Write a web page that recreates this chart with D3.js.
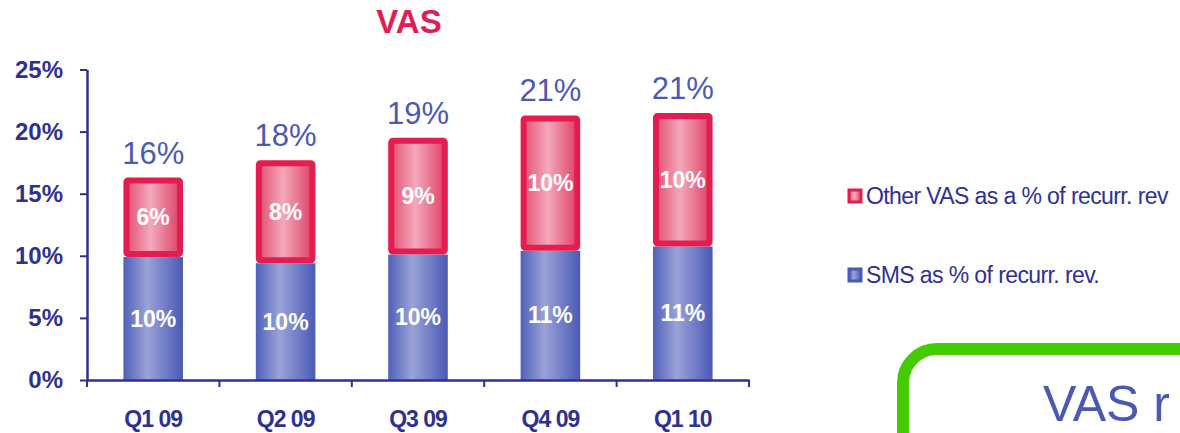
<!DOCTYPE html>
<html>
<head>
<meta charset="utf-8">
<script src="https://cdn.jsdelivr.net/npm/d3@7"></script>
<style>
    html, body { margin: 0; padding: 0; background: #fff; overflow: hidden; }
    svg { display: block; font-family: Arial, "Liberation Sans", sans-serif; }
</style>
</head>
<body>
<div id="chart"></div>
<script>
// VAS stacked bars: SMS share + other VAS share of recurring revenue

const quarters = ['Q1 09', 'Q2 09', 'Q3 09', 'Q4 09', 'Q1 10'];
const smsValues = [9.9, 9.4, 10.1, 10.4, 10.75];
const otherValues = [6.4, 8.3, 9.4, 10.9, 10.75];
const smsLabels = ['10%', '10%', '10%', '11%', '11%'];
const otherLabels = ['6%', '8%', '9%', '10%', '10%'];
const totalLabels = ['16%', '18%', '19%', '21%', '21%'];
const yTicks = [0, 5, 10, 15, 20, 25];
const legendItems = ['Other VAS as a % of recurr. rev', 'SMS as % of recurr. rev.'];

(function () {
    const W = 1180, H = 433;
    const NAVY = '#2e3192';
    const BLUE_TXT = '#4a5ab4';
    const RED = '#e31c52';
    const BORDER = 6;
    const FONT = 'Arial, "Liberation Sans", sans-serif';

    const svg = d3.select('#chart').append('svg').attr('width', W).attr('height', H);
    const defs = svg.append('defs');

    const gBlue = defs.append('linearGradient').attr('id', 'gBlue').attr('x1', 0).attr('x2', 1).attr('y1', 0).attr('y2', 0);
    gBlue.append('stop').attr('offset', '0%').attr('stop-color', '#5060b8');
    gBlue.append('stop').attr('offset', '40%').attr('stop-color', '#9aa2d8');
    gBlue.append('stop').attr('offset', '100%').attr('stop-color', '#4a5ab4');

    const gRed = defs.append('linearGradient').attr('id', 'gRed').attr('x1', 0).attr('x2', 1).attr('y1', 0).attr('y2', 0);
    gRed.append('stop').attr('offset', '0%').attr('stop-color', '#e2506f');
    gRed.append('stop').attr('offset', '45%').attr('stop-color', '#f4a8bc');
    gRed.append('stop').attr('offset', '100%').attr('stop-color', '#df4268');

    const x = d3.scaleBand().domain(quarters).range([87, 749]).paddingInner(0.55).paddingOuter(0.275);
    const y = d3.scaleLinear().domain([0, 25]).range([380, 69.5]);

    // title
    svg.append('text').attr('x', 409).attr('y', 33).attr('text-anchor', 'middle')
        .attr('fill', RED).style('font-size', '33px').style('font-weight', 'bold').text('VAS');

    // y axis
    const yAxis = svg.append('g').attr('transform', 'translate(87,0)')
        .call(d3.axisLeft(y).tickValues(yTicks).tickFormat(d => d + '%').tickSize(7).tickSizeOuter(0).tickPadding(17));
    yAxis.select('.domain').attr('stroke', NAVY).attr('stroke-width', 2.5);
    yAxis.selectAll('.tick line').attr('stroke', NAVY).attr('stroke-width', 2);
    yAxis.selectAll('.tick text').attr('fill', NAVY).style('font-size', '24px').style('font-weight', 'bold')
        .style('font-family', FONT);

    // bars
    const data = quarters.map((q, i) => ({ q, sms: smsValues[i], other: otherValues[i], i }));
    const bars = svg.append('g');
    bars.selectAll('rect.sms').data(data).enter().append('rect').attr('class', 'sms')
        .attr('x', d => x(d.q)).attr('width', x.bandwidth())
        .attr('y', d => y(d.sms)).attr('height', d => y(0) - y(d.sms))
        .attr('fill', 'url(#gBlue)');
    bars.selectAll('rect.other').data(data).enter().append('rect').attr('class', 'other')
        .attr('x', d => x(d.q) + BORDER / 2).attr('width', x.bandwidth() - BORDER)
        .attr('y', d => y(d.sms + d.other) + BORDER / 2)
        .attr('height', d => y(d.sms) - y(d.sms + d.other) - BORDER)
        .attr('fill', 'url(#gRed)').attr('stroke', RED).attr('stroke-width', BORDER).attr('rx', 1.5);

    // x axis
    const xAxis = svg.append('g').attr('transform', 'translate(0,380)')
        .call(d3.axisBottom(x).tickSize(0).tickSizeOuter(0).tickPadding(31));
    xAxis.select('.domain').attr('stroke', NAVY).attr('stroke-width', 2.5);
    xAxis.selectAll('.tick text').attr('fill', NAVY).style('font-size', '23px').style('font-weight', 'bold')
        .style('letter-spacing', '-1px').style('font-family', FONT);
    const edges = quarters.map((q, i) => x.range()[0] + i * x.step()).concat([x.range()[1]]);
    xAxis.selectAll('line.edge').data(edges).enter().append('line').attr('class', 'edge')
        .attr('x1', d => d).attr('x2', d => d).attr('y1', 0).attr('y2', 7)
        .attr('stroke', NAVY).attr('stroke-width', 2);

    // value labels
    const lbl = svg.append('g').style('font-family', FONT);
    lbl.selectAll('text.sms').data(data).enter().append('text')
        .attr('x', d => x(d.q) + x.bandwidth() / 2).attr('y', d => y(d.sms / 2) + 8)
        .attr('text-anchor', 'middle').attr('fill', '#fff').style('font-size', '23px').style('font-weight', 'bold')
        .text(d => smsLabels[d.i]);
    lbl.selectAll('text.other').data(data).enter().append('text')
        .attr('x', d => x(d.q) + x.bandwidth() / 2).attr('y', d => y(d.sms + d.other / 2) + 8)
        .attr('text-anchor', 'middle').attr('fill', '#fff').style('font-size', '23px').style('font-weight', 'bold')
        .text(d => otherLabels[d.i]);
    lbl.selectAll('text.total').data(data).enter().append('text')
        .attr('x', d => x(d.q) + x.bandwidth() / 2).attr('y', d => y(d.sms + d.other) - 14)
        .attr('text-anchor', 'middle').attr('fill', BLUE_TXT).style('font-size', '31px')
        .text(d => totalLabels[d.i]);

    // legend
    const legend = svg.append('g').attr('transform', 'translate(847,188)');
    const swatch = [{ fill: 'url(#gRed)', stroke: RED }, { fill: 'url(#gBlue)', stroke: '#4a5ab4' }];
    legendItems.forEach((t, i) => {
        const ly = i * 79;
        legend.append('rect').attr('x', 2).attr('y', ly + 2).attr('width', 12).attr('height', 12)
            .attr('fill', swatch[i].fill).attr('stroke', swatch[i].stroke).attr('stroke-width', 3);
        legend.append('text').attr('x', 19).attr('y', ly + 16).attr('fill', NAVY)
            .style('font-size', '23px').style('letter-spacing', '-0.6px').text(t);
    });

    // green callout box (cut by the frame edge)
    svg.append('rect').attr('x', 903).attr('y', 349).attr('width', 400).attr('height', 200).attr('rx', 34)
        .attr('fill', 'none').attr('stroke', '#44cc00').attr('stroke-width', 12);
    svg.append('text').attr('x', 1043).attr('y', 421).attr('fill', BLUE_TXT)
        .style('font-size', '50px').text('VAS r');
})();
</script>
</body>
</html>
